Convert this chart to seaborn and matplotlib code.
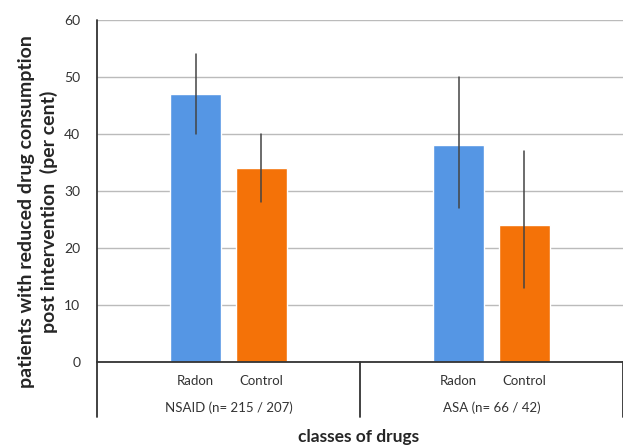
import numpy as np
import pandas as pd
import seaborn as sns
import matplotlib.pyplot as plt

# data
drug_classes = ["NSAID (n= 215 / 207)", "ASA (n= 66 / 42)"]
groups = ["Radon", "Control"]
radon_values = [47, 38]
control_values = [34, 24]
radon_err_low = [40, 27]
radon_err_high = [54, 50]
control_err_low = [28, 13]
control_err_high = [40, 37]

df = pd.DataFrame({
    "drug": drug_classes * 2,
    "group": ["Radon"] * 2 + ["Control"] * 2,
    "value": radon_values + control_values,
    "low": radon_err_low + control_err_low,
    "high": radon_err_high + control_err_high,
})

sns.set_style("white")
plt.rcParams["font.family"] = ["Lato", "DejaVu Sans"]

fig = plt.figure(figsize=(6.23, 4.46), dpi=100)
ax = fig.add_axes([0.1557, 0.1883, 0.8443, 0.7668])

palette = {"Radon": "#5596E4", "Control": "#F47208"}
sns.barplot(data=df, x="drug", y="value", hue="group", hue_order=groups,
            order=drug_classes, palette=palette, width=0.5, gap=0.22,
            errorbar=None, saturation=1, legend=False, ax=ax, zorder=2)

# asymmetric error bars, placed at the bar centres
for cont, grp in zip(ax.containers, groups):
    sub = df[df["group"] == grp].set_index("drug").loc[drug_classes]
    for bar, (_, row) in zip(cont, sub.iterrows()):
        xc = bar.get_x() + bar.get_width() / 2
        ax.plot([xc, xc], [row["low"], row["high"]], color="#444444",
                lw=1.1, zorder=3)
        # tick labels under each bar
        ax.text(xc, -0.055, grp, transform=ax.get_xaxis_transform(),
                ha="center", va="center", fontsize=9.5, color="#333333")

ax.set_xlim(-0.5, 1.5)
ax.set_ylim(0, 60)
ax.set_yticks(np.arange(0, 61, 10))
ax.tick_params(axis="y", length=0, labelsize=10, labelcolor="#333333", pad=12)
ax.set_xticks([])
ax.set_xlabel("")

# size the y label so its long line is about 355 px, as in the reference
line1 = "patients with reduced drug consumption"
probe = fig.text(0, 0, line1, fontsize=10, fontweight="bold")
w = probe.get_window_extent(renderer=fig.canvas.get_renderer()).width
probe.remove()
ylab_size = 10 * 352 / w

ax.set_ylabel(line1 + "\npost intervention  (per cent)",
              fontsize=ylab_size, fontweight="bold", linespacing=1.3)
ax.yaxis.set_label_coords(-0.074, 0.44)
ax.yaxis.grid(True, color="#BBBBBB", lw=1, zorder=0)
ax.set_axisbelow(True)

for s in ["top", "right"]:
    ax.spines[s].set_visible(False)
ax.spines["bottom"].set_color("#333333")
ax.spines["bottom"].set_linewidth(1.3)
ax.spines["left"].set_visible(False)

# category axis with separators, extended below the zero line
trans = ax.get_xaxis_transform()
for xs in [-0.5, 0.5, 1.5]:
    ax.plot([xs, xs], [1.0 if xs == -0.5 else 0, -0.16], transform=trans,
            color="#333333", lw=1.3, clip_on=False)

for i, name in enumerate(drug_classes):
    ax.text(i, -0.134, name, transform=trans, ha="center", va="center",
            fontsize=9.5, color="#333333")

fig.text(0.575, 0.02, "classes of drugs", ha="center", va="center",
         fontsize=12.5, fontweight="bold")

fig.savefig("out.png", dpi=100)
